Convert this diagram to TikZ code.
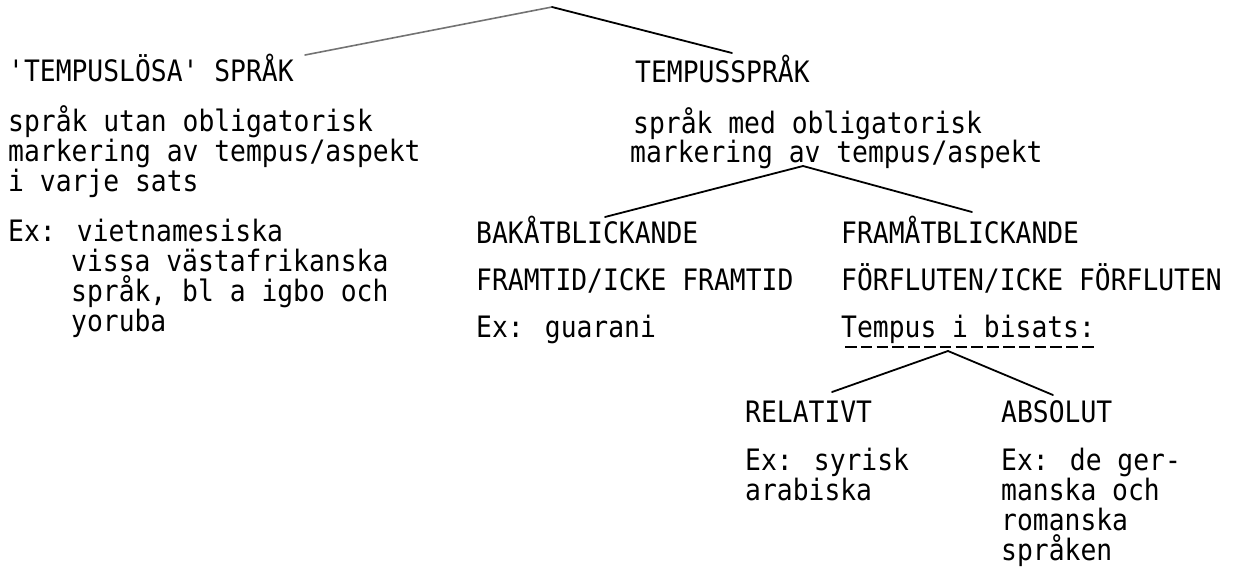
\documentclass[tikz,border=0pt]{standalone}
\usepackage{fontspec}
\newfontfamily\tw[FakeStretch=0.893]{DejaVu Sans Mono}
\begin{document}
\begin{tikzpicture}[x=1pt,y=-1pt,
  txt/.style={anchor=base west, inner sep=0pt, font=\tw\fontsize{29.5}{30}\selectfont},
  branch/.style={line width=1.8pt, line cap=round},
  faint/.style={line width=1.6pt, black!55, line cap=round},
  uline/.style={line width=1.8pt, dash pattern=on 11.5pt off 4.3pt}]
\useasboundingbox (0,0) rectangle (1245,568);
% left column
\node[txt] (tl) at (8,81) {'TEMPUSLÖSA' SPRÅK};
\node[txt] (tl1) at (8,131) {språk utan obligatorisk};
\node[txt] (tl2) at (8,161) {markering av tempus/aspekt};
\node[txt] (tl3) at (8,191) {i varje sats};
\node[txt] (tl4) at (8,241) {Ex: vietnamesiska};
\node[txt] (tl5) at (71,271) {vissa västafrikanska};
\node[txt] (tl6) at (71,301) {språk, bl a igbo och};
\node[txt] (tl7) at (71,331) {yoruba};
% right of top
\node[txt] (tr) at (635,82) {TEMPUSSPRÅK};
\node[txt] (tr1) at (633,133) {språk med obligatorisk};
\node[txt] (tr2) at (630,162) {markering av tempus/aspekt};
% middle column
\node[txt] (bk) at (476,243) {BAKÅTBLICKANDE};
\node[txt] (bk1) at (476,290) {FRAMTID/ICKE FRAMTID};
\node[txt] (bk2) at (476,337) {Ex: guarani};
% right column
\node[txt] (fr) at (841,243) {FRAMÅTBLICKANDE};
\node[txt] (fr1) at (841,290) {FÖRFLUTEN/ICKE FÖRFLUTEN};
\node[txt] (fr2) at (841,337) {Tempus i bisats:};
% bottom
\node[txt] (rel) at (745,422) {RELATIVT};
\node[txt] (rel1) at (745,470) {Ex: syrisk};
\node[txt] (rel2) at (745,500) {arabiska};
\node[txt] (abs) at (1001,422) {ABSOLUT};
\node[txt] (abs1) at (1001,470) {Ex: de ger-};
\node[txt] (abs2) at (1001,500) {manska och};
\node[txt] (abs3) at (1001,530) {romanska};
\node[txt] (abs4) at (1001,560) {språken};
% branch points
\coordinate (a1) at (552,7);
\coordinate (l1) at (305,55);
\coordinate (r1) at (732,53);
\coordinate (a2) at (803,166);
\coordinate (l2) at (605,217);
\coordinate (r2) at (972,212);
\coordinate (a3) at (948,351);
\coordinate (l3) at (832,392);
\coordinate (r3) at (1053,395);
\coordinate (u1) at (845,347);
\coordinate (u2) at (1097,347);
\draw[faint] (a1) -- (l1);
\draw[branch] (a1) -- (r1);
\draw[branch] (a2) -- (l2);
\draw[branch] (a2) -- (r2);
\draw[branch] (a3) -- (l3);
\draw[branch] (a3) -- (r3);
\draw[uline] (u1) -- (u2);
\end{tikzpicture}
\end{document}
